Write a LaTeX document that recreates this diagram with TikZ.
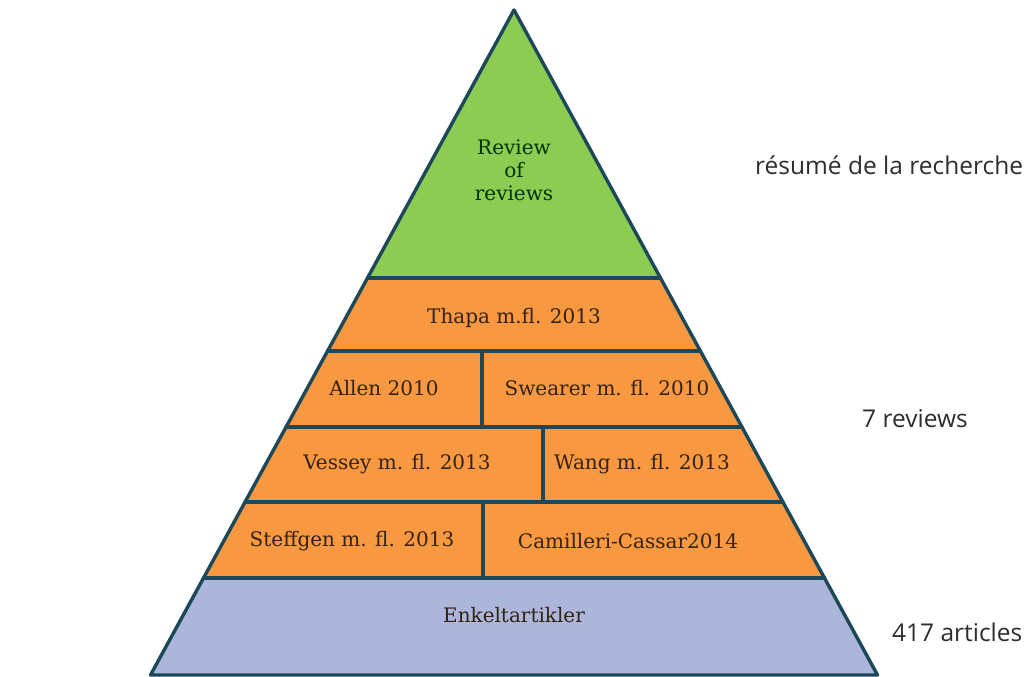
\documentclass[tikz,border=0pt]{standalone}
\usepackage{fontspec}
\setmainfont{DejaVu Serif}
\newfontfamily\labelfont{Open Sans}
\definecolor{edge}{RGB}{28,72,88}
\definecolor{topgreen}{RGB}{141,204,82}
\definecolor{midorange}{RGB}{248,152,64}
\definecolor{baseblue}{RGB}{172,182,218}
\definecolor{inktext}{RGB}{52,34,20}
\definecolor{sidetext}{RGB}{45,45,45}
\tikzset{
  outline/.style={draw=edge, line width=3.4pt, line join=round, line cap=round},
  cell/.style={font=\fontsize{20}{23}\selectfont, text=inktext, inner sep=0pt},
  sidelabel/.style={font=\labelfont\fontsize{24.5}{28}\selectfont, text=sidetext, anchor=west, inner sep=0pt}
}
\begin{document}
\begin{tikzpicture}[x=1pt, y=-1pt]
\useasboundingbox (0,0) rectangle (1031,677);
% corner points of the pyramid and its tier boundaries
\coordinate (A) at (514,10);
\coordinate (L1) at (367.5,278);  \coordinate (R1) at (660.5,278);
\coordinate (L2) at (327.6,351);  \coordinate (R2) at (700.4,351);
\coordinate (L3) at (286.1,427);  \coordinate (R3) at (741.9,427);
\coordinate (L4) at (245.1,502);  \coordinate (R4) at (782.9,502);
\coordinate (L5) at (203.5,578);  \coordinate (R5) at (824.5,578);
\coordinate (L6) at (150.5,675);  \coordinate (R6) at (877.5,675);
% tier fills
\fill[topgreen] (A) -- (R1) -- (L1) -- cycle;
\fill[midorange] (L1) -- (R1) -- (R5) -- (L5) -- cycle;
\fill[baseblue] (L5) -- (R5) -- (R6) -- (L6) -- cycle;
% outline and tier separators
\draw[outline] (A) -- (R6) -- (L6) -- cycle;
\draw[outline] (L1) -- (R1);
\draw[outline] (L2) -- (R2);
\draw[outline] (L3) -- (R3);
\draw[outline] (L4) -- (R4);
\draw[outline] (L5) -- (R5);
\coordinate (d1t) at (482,351); \coordinate (d1b) at (482,427);
\coordinate (d2t) at (543,427); \coordinate (d2b) at (543,502);
\coordinate (d3t) at (483,502); \coordinate (d3b) at (483,578);
\draw[outline] (d1t) -- (d1b);
\draw[outline] (d2t) -- (d2b);
\draw[outline] (d3t) -- (d3b);
% tier labels
\node[cell, text=black!80!green, align=center] (rev) at (514,170) {Review\\of\\reviews};
\node[cell] (thapa) at (514,318) {Thapa m.fl. 2013};
\node[cell] (allen) at (384,388) {Allen 2010};
\node[cell] (swearer) at (607,388) {Swearer m. fl. 2010};
\node[cell] (vessey) at (397,464) {Vessey m. fl. 2013};
\node[cell] (wang) at (642,464) {Wang m. fl. 2013};
\node[cell] (steffgen) at (352,541) {Steffgen m. fl. 2013};
\node[cell] (camilleri) at (628,541) {Camilleri-Cassar2014};
\node[cell] (enkel) at (514,615) {Enkeltartikler};
% side annotations
\node[sidelabel] (summary) at (755,165) {résumé de la recherche};
\node[sidelabel] (reviews) at (862,419) {7 reviews};
\node[sidelabel] (articles) at (892,632) {417 articles};
\end{tikzpicture}
\end{document}
